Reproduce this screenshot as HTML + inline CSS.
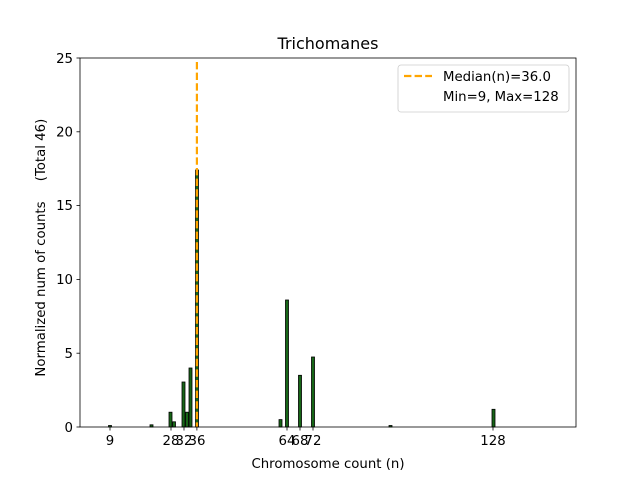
<!DOCTYPE html>
<html><head><meta charset="utf-8"><style>body{margin:0;background:#fff}svg{display:block}text{font-family:"DejaVu Sans","Liberation Sans",sans-serif;fill:#000}</style></head><body>
<svg width="640" height="480" viewBox="0 0 640 480" xmlns="http://www.w3.org/2000/svg">
<rect width="640" height="480" fill="#fff"/>
<g fill="#176617" stroke="#000" stroke-width="0.8">
<rect x="108.5" y="425.5" width="3" height="1.5"/>
<rect x="150" y="424.8" width="3" height="2.2"/>
<rect x="169" y="412.2" width="3" height="14.8"/>
<rect x="172.5" y="421.8" width="3" height="5.2"/>
<rect x="182" y="382" width="3" height="45"/>
<rect x="185.5" y="412.2" width="3" height="14.8"/>
<rect x="189" y="368" width="3" height="59"/>
<rect x="195.5" y="170" width="3" height="257"/>
<rect x="279" y="419.6" width="3" height="7.4"/>
<rect x="285.5" y="300" width="3" height="127"/>
<rect x="298.5" y="375.3" width="3" height="51.7"/>
<rect x="311.5" y="357" width="3" height="70"/>
<rect x="389" y="425.5" width="3" height="1.5"/>
<rect x="492" y="409.3" width="3" height="17.7"/>
</g>
<line x1="196.9" y1="62" x2="196.9" y2="427" stroke="#ffa500" stroke-width="2.2" stroke-dasharray="7.4,3.2"/>
<rect x="80" y="58" width="496" height="369" fill="none" stroke="#000" stroke-width="0.8"/>
<g stroke="#000" stroke-width="0.8">
<line x1="80" y1="427" x2="76.5" y2="427"/><line x1="80" y1="353.2" x2="76.5" y2="353.2"/><line x1="80" y1="279.4" x2="76.5" y2="279.4"/><line x1="80" y1="205.6" x2="76.5" y2="205.6"/><line x1="80" y1="131.8" x2="76.5" y2="131.8"/><line x1="80" y1="58" x2="76.5" y2="58"/>
<line x1="110" y1="427" x2="110" y2="430.5"/><line x1="171" y1="427" x2="171" y2="430.5"/><line x1="184" y1="427" x2="184" y2="430.5"/><line x1="196.9" y1="427" x2="196.9" y2="430.5"/><line x1="287" y1="427" x2="287" y2="430.5"/><line x1="300" y1="427" x2="300" y2="430.5"/><line x1="313" y1="427" x2="313" y2="430.5"/><line x1="493" y1="427" x2="493" y2="430.5"/>
</g>
<g font-size="13.3" text-anchor="end">
<text x="73" y="432">0</text><text x="73" y="358">5</text><text x="73" y="284">10</text><text x="73" y="210">15</text><text x="73" y="136.5">20</text><text x="73" y="63">25</text>
</g>
<g font-size="13.3" text-anchor="middle">
<text x="110" y="445">9</text><text x="171" y="445">28</text><text x="184" y="445">32</text><text x="197" y="445">36</text><text x="287" y="445">64</text><text x="300" y="445">68</text><text x="313" y="445">72</text><text x="493" y="445">128</text>
<text x="328" y="468">Chromosome count (n)</text>
<text x="328" y="49" font-size="16">Trichomanes</text>
<text transform="translate(45,289) rotate(-90)">Normalized num of counts</text>
<text transform="translate(45,150) rotate(-90)">(Total 46)</text>
</g>
<rect x="398" y="65" width="171" height="47" rx="3" fill="#fff" stroke="#ccc" stroke-width="0.8"/>
<line x1="404" y1="76" x2="432" y2="76" stroke="#ffa500" stroke-width="2.2" stroke-dasharray="7.4,3.2"/>
<g font-size="13.3"><text x="443" y="81">Median(n)=36.0</text><text x="443" y="101">Min=9, Max=128</text></g>
</svg>
</body></html>
